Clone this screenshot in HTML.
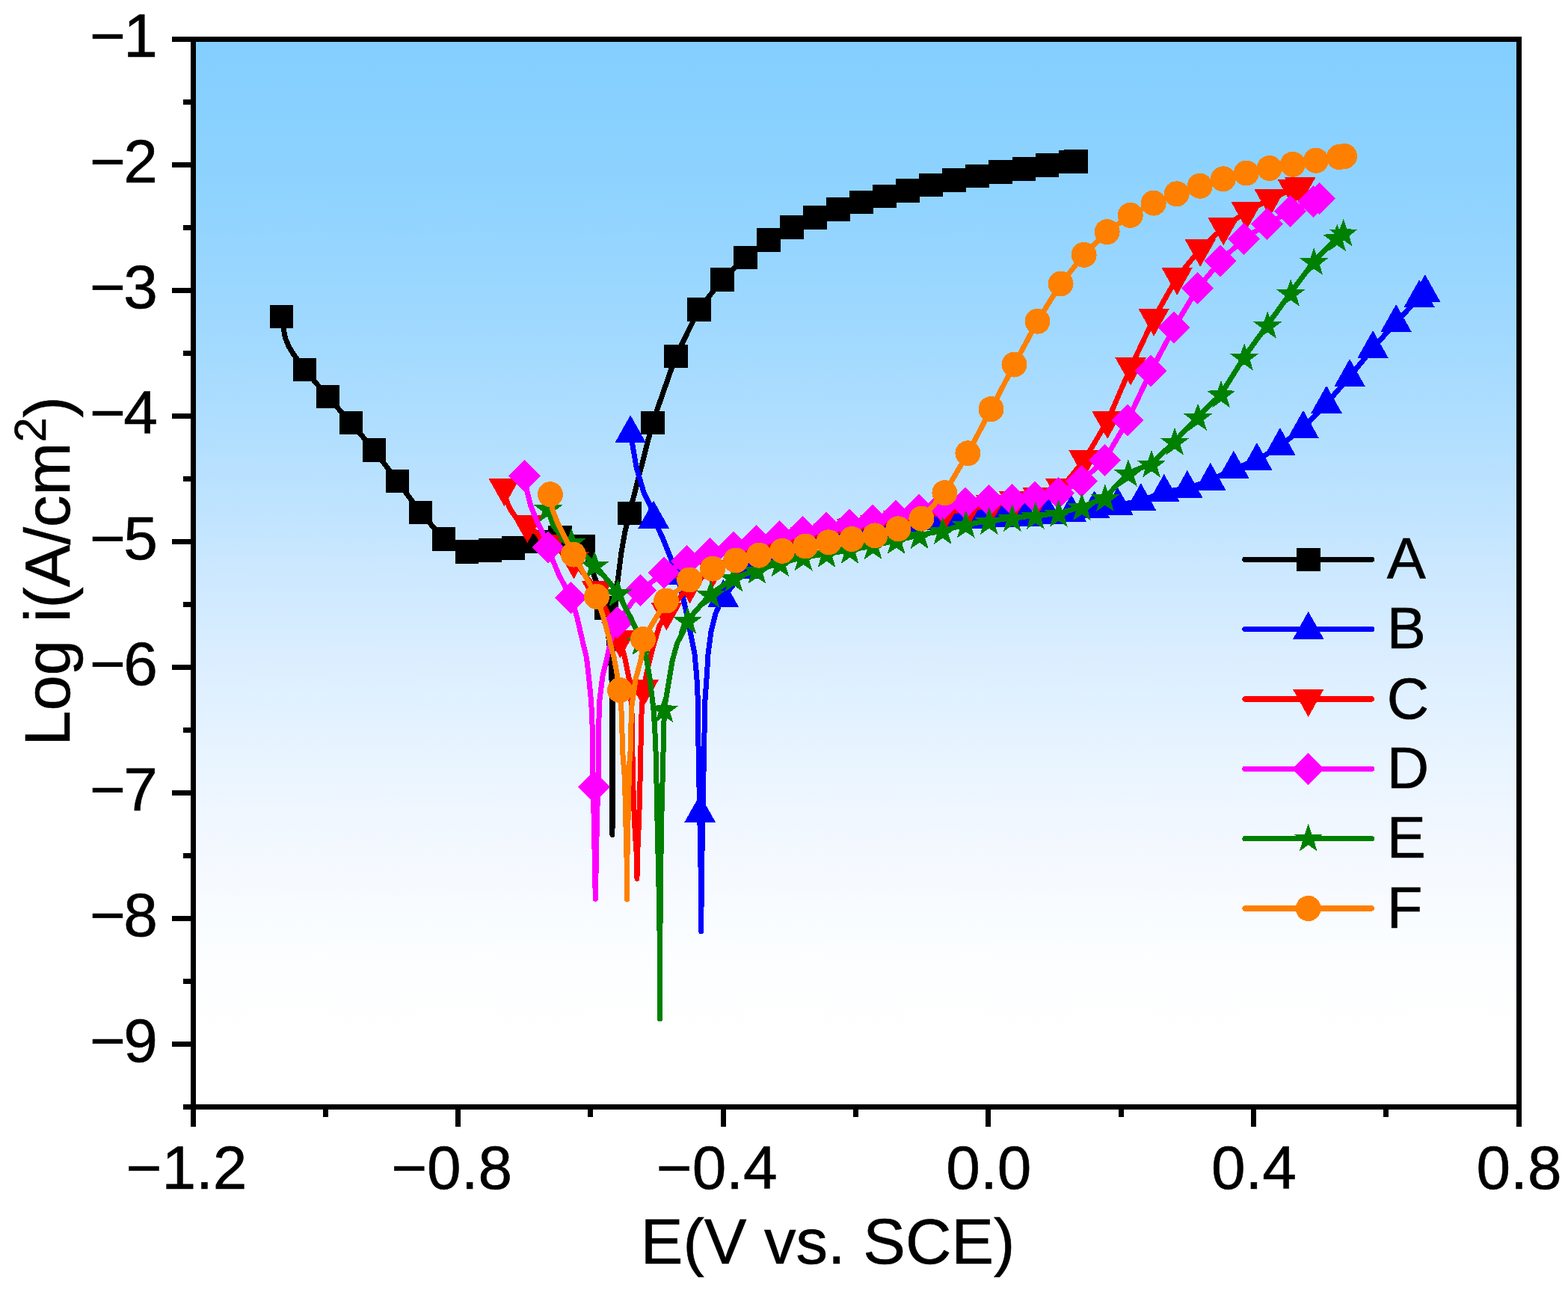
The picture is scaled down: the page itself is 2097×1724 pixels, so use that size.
<!DOCTYPE html>
<html lang="en"><head><meta charset="utf-8"><title>Polarization curves</title>
<style>html,body{margin:0;padding:0;background:#fff}body{width:2097px;height:1724px;overflow:hidden}svg{display:block}text{font-family:"Liberation Sans",sans-serif;fill:#000;stroke:#000;stroke-width:0.6px}</style></head><body>
<svg width="2097" height="1724" viewBox="0 0 2097 1724">
<defs><linearGradient id="bg" x1="0" y1="0" x2="0" y2="1"><stop offset="0" stop-color="#84cfff"/><stop offset="0.02" stop-color="#84cfff"/><stop offset="0.145" stop-color="#8fd3ff"/><stop offset="0.278" stop-color="#a1d9ff"/><stop offset="0.39" stop-color="#b5e0ff"/><stop offset="0.5" stop-color="#cce8ff"/><stop offset="0.594" stop-color="#ddefff"/><stop offset="0.671" stop-color="#e8f4ff"/><stop offset="0.755" stop-color="#f3f8ff"/><stop offset="0.839" stop-color="#fafdff"/><stop offset="0.885" stop-color="#fdfeff"/><stop offset="0.93" stop-color="#ffffff"/><stop offset="1" stop-color="#ffffff"/></linearGradient></defs>
<rect x="0" y="0" width="2097" height="1724" fill="#fff"/>
<rect x="258.5" y="52.5" width="1773.0" height="1428.0" fill="url(#bg)"/>
<g shape-rendering="crispEdges">
<path d="M376.3,423.4 L378.5,436.0 L381.5,452.0 L386.5,464.0 L393.0,474.5 L400.0,484.0 L407.3,494.4 L438.4,530.5 L469.4,565.5 L500.4,602.1 L531.5,643.3 L562.5,685.6 L593.5,720.8 L624.5,738.0 L655.6,735.9 L686.6,733.0 L717.6,724.5 L748.7,718.6 L779.7,730.8 L810.7,813.1 L813.7,850.0 L816.5,880.0 L818.5,920.0 L819.0,1116.5 L819.4,880.0 L819.6,811.0 L822.0,797.0 L826.1,777.4 L830.9,739.1 L835.7,712.0 L841.8,686.3 L872.8,565.4 L903.8,476.5 L934.8,413.7 L965.9,374.0 L996.9,344.3 L1027.9,321.2 L1059.0,304.2 L1090.0,290.9 L1121.0,280.2 L1152.0,270.5 L1183.1,262.5 L1214.1,254.8 L1245.1,247.5 L1276.2,241.1 L1307.2,235.5 L1338.2,230.1 L1369.3,226.0 L1400.3,221.0 L1431.3,216.3 L1439.1,215.7" fill="none" stroke="#000000" stroke-width="7.0" stroke-linejoin="round" stroke-linecap="round"/>
<rect x="360.5" y="407.6" width="31.6" height="31.6" fill="#000000"/>
<rect x="391.5" y="478.6" width="31.6" height="31.6" fill="#000000"/>
<rect x="422.6" y="514.7" width="31.6" height="31.6" fill="#000000"/>
<rect x="453.6" y="549.7" width="31.6" height="31.6" fill="#000000"/>
<rect x="484.6" y="586.3" width="31.6" height="31.6" fill="#000000"/>
<rect x="515.7" y="627.5" width="31.6" height="31.6" fill="#000000"/>
<rect x="546.7" y="669.8" width="31.6" height="31.6" fill="#000000"/>
<rect x="577.7" y="705.0" width="31.6" height="31.6" fill="#000000"/>
<rect x="608.7" y="722.2" width="31.6" height="31.6" fill="#000000"/>
<rect x="639.8" y="720.1" width="31.6" height="31.6" fill="#000000"/>
<rect x="670.8" y="717.2" width="31.6" height="31.6" fill="#000000"/>
<rect x="701.8" y="708.7" width="31.6" height="31.6" fill="#000000"/>
<rect x="732.9" y="702.8" width="31.6" height="31.6" fill="#000000"/>
<rect x="763.9" y="715.0" width="31.6" height="31.6" fill="#000000"/>
<rect x="794.9" y="797.3" width="31.6" height="31.6" fill="#000000"/>
<rect x="826.0" y="670.5" width="31.6" height="31.6" fill="#000000"/>
<rect x="857.0" y="549.6" width="31.6" height="31.6" fill="#000000"/>
<rect x="888.0" y="460.7" width="31.6" height="31.6" fill="#000000"/>
<rect x="919.0" y="397.9" width="31.6" height="31.6" fill="#000000"/>
<rect x="950.1" y="358.2" width="31.6" height="31.6" fill="#000000"/>
<rect x="981.1" y="328.5" width="31.6" height="31.6" fill="#000000"/>
<rect x="1012.1" y="305.4" width="31.6" height="31.6" fill="#000000"/>
<rect x="1043.2" y="288.4" width="31.6" height="31.6" fill="#000000"/>
<rect x="1074.2" y="275.1" width="31.6" height="31.6" fill="#000000"/>
<rect x="1105.2" y="264.4" width="31.6" height="31.6" fill="#000000"/>
<rect x="1136.2" y="254.7" width="31.6" height="31.6" fill="#000000"/>
<rect x="1167.3" y="246.7" width="31.6" height="31.6" fill="#000000"/>
<rect x="1198.3" y="239.0" width="31.6" height="31.6" fill="#000000"/>
<rect x="1229.3" y="231.7" width="31.6" height="31.6" fill="#000000"/>
<rect x="1260.4" y="225.3" width="31.6" height="31.6" fill="#000000"/>
<rect x="1291.4" y="219.7" width="31.6" height="31.6" fill="#000000"/>
<rect x="1322.4" y="214.3" width="31.6" height="31.6" fill="#000000"/>
<rect x="1353.5" y="210.2" width="31.6" height="31.6" fill="#000000"/>
<rect x="1384.5" y="205.2" width="31.6" height="31.6" fill="#000000"/>
<rect x="1415.5" y="200.5" width="31.6" height="31.6" fill="#000000"/>
<rect x="1423.3" y="199.9" width="31.6" height="31.6" fill="#000000"/>
</g>
<g shape-rendering="crispEdges">
<path d="M843.1,579.0 L845.2,590.6 L851.2,625.8 L861.5,660.2 L870.0,677.3 L874.1,693.5 L886.4,720.0 L897.9,748.7 L905.2,769.0 L913.6,799.3 L917.4,816.6 L923.2,845.3 L928.9,874.0 L931.8,905.0 L933.5,940.0 L933.7,975.0 L934.2,1011.6 L936.7,1139.0 L937.4,1185.6 L937.8,1246.0 L938.2,1185.6 L939.0,1139.0 L941.4,1011.6 L942.1,975.0 L942.7,940.0 L945.2,905.0 L947.1,874.0 L950.9,845.3 L956.7,821.3 L961.4,810.8 L967.2,798.7 L998.2,761.3 L1029.3,745.0 L1060.3,732.0 L1091.3,722.0 L1122.4,717.0 L1153.4,712.0 L1184.4,706.5 L1215.5,700.0 L1246.5,695.5 L1277.5,694.0 L1308.6,693.5 L1339.6,691.8 L1370.6,690.4 L1401.6,688.0 L1432.7,685.3 L1463.7,680.1 L1494.7,675.5 L1525.8,670.0 L1556.8,657.8 L1587.8,652.8 L1618.8,642.7 L1649.9,626.6 L1680.9,615.9 L1711.9,595.9 L1743.0,572.6 L1774.0,539.6 L1805.0,503.9 L1836.1,465.8 L1867.1,430.8 L1898.1,398.0 L1905.8,390.9" fill="none" stroke="#0000ff" stroke-width="7.0" stroke-linejoin="round" stroke-linecap="round"/>
<polygon points="843.1,555.1 863.9,592.1 822.4,592.1" fill="#0000ff"/>
<polygon points="874.1,669.6 894.9,706.6 853.4,706.6" fill="#0000ff"/>
<polygon points="905.2,745.1 925.9,782.1 884.4,782.1" fill="#0000ff"/>
<polygon points="936.2,1062.7 956.9,1099.7 915.4,1099.7" fill="#0000ff"/>
<polygon points="967.2,774.8 988.0,811.8 946.5,811.8" fill="#0000ff"/>
<polygon points="998.2,737.4 1019.0,774.4 977.5,774.4" fill="#0000ff"/>
<polygon points="1029.3,721.1 1050.0,758.1 1008.5,758.1" fill="#0000ff"/>
<polygon points="1060.3,708.1 1081.1,745.1 1039.6,745.1" fill="#0000ff"/>
<polygon points="1091.3,698.1 1112.1,735.1 1070.6,735.1" fill="#0000ff"/>
<polygon points="1122.4,693.1 1143.1,730.1 1101.6,730.1" fill="#0000ff"/>
<polygon points="1153.4,688.1 1174.2,725.1 1132.7,725.1" fill="#0000ff"/>
<polygon points="1184.4,682.6 1205.2,719.6 1163.7,719.6" fill="#0000ff"/>
<polygon points="1215.5,676.1 1236.2,713.1 1194.7,713.1" fill="#0000ff"/>
<polygon points="1246.5,671.6 1267.2,708.6 1225.7,708.6" fill="#0000ff"/>
<polygon points="1277.5,670.1 1298.3,707.1 1256.8,707.1" fill="#0000ff"/>
<polygon points="1308.6,669.6 1329.3,706.6 1287.8,706.6" fill="#0000ff"/>
<polygon points="1339.6,667.9 1360.3,704.9 1318.8,704.9" fill="#0000ff"/>
<polygon points="1370.6,666.5 1391.4,703.5 1349.9,703.5" fill="#0000ff"/>
<polygon points="1401.6,664.1 1422.4,701.1 1380.9,701.1" fill="#0000ff"/>
<polygon points="1432.7,661.4 1453.4,698.4 1411.9,698.4" fill="#0000ff"/>
<polygon points="1463.7,656.2 1484.5,693.2 1443.0,693.2" fill="#0000ff"/>
<polygon points="1494.7,651.6 1515.5,688.6 1474.0,688.6" fill="#0000ff"/>
<polygon points="1525.8,646.1 1546.5,683.1 1505.0,683.1" fill="#0000ff"/>
<polygon points="1556.8,633.9 1577.5,670.9 1536.0,670.9" fill="#0000ff"/>
<polygon points="1587.8,628.9 1608.6,665.9 1567.1,665.9" fill="#0000ff"/>
<polygon points="1618.8,618.8 1639.6,655.8 1598.1,655.8" fill="#0000ff"/>
<polygon points="1649.9,602.7 1670.6,639.7 1629.1,639.7" fill="#0000ff"/>
<polygon points="1680.9,592.0 1701.7,629.0 1660.2,629.0" fill="#0000ff"/>
<polygon points="1711.9,572.0 1732.7,609.0 1691.2,609.0" fill="#0000ff"/>
<polygon points="1743.0,548.7 1763.7,585.7 1722.2,585.7" fill="#0000ff"/>
<polygon points="1774.0,515.7 1794.8,552.7 1753.2,552.7" fill="#0000ff"/>
<polygon points="1805.0,480.0 1825.8,517.0 1784.3,517.0" fill="#0000ff"/>
<polygon points="1836.1,441.9 1856.8,478.9 1815.3,478.9" fill="#0000ff"/>
<polygon points="1867.1,406.9 1887.8,443.9 1846.3,443.9" fill="#0000ff"/>
<polygon points="1898.1,374.1 1918.9,411.1 1877.4,411.1" fill="#0000ff"/>
<polygon points="1905.8,367.0 1926.5,404.0 1885.0,404.0" fill="#0000ff"/>
</g>
<g shape-rendering="crispEdges">
<path d="M674.3,653.3 L676.0,664.0 L678.5,672.0 L682.0,680.5 L686.0,686.5 L690.0,692.0 L696.0,697.5 L705.3,702.5 L736.4,728.0 L767.4,750.6 L798.4,789.6 L829.4,856.5 L835.7,880.0 L841.4,908.7 L844.8,947.0 L845.6,975.7 L846.0,1011.6 L847.3,1069.6 L849.4,1116.0 L851.8,1150.8 L852.0,1175.2 L852.2,1150.8 L853.8,1116.0 L855.5,1069.6 L856.7,1011.6 L857.5,975.7 L858.2,947.0 L860.5,921.8 L866.0,895.0 L873.9,863.5 L881.6,838.0 L891.5,819.4 L922.5,783.6 L953.6,762.0 L984.6,748.0 L1015.6,736.0 L1046.7,726.0 L1077.7,718.0 L1108.7,713.0 L1139.8,707.5 L1170.8,702.0 L1201.8,696.0 L1232.8,690.5 L1263.9,685.4 L1294.9,681.0 L1325.9,675.5 L1357.0,670.3 L1388.0,665.0 L1419.0,653.5 L1450.0,615.4 L1481.1,563.2 L1512.1,491.5 L1543.1,426.0 L1574.2,371.0 L1605.2,333.1 L1636.2,304.4 L1667.3,283.2 L1698.3,266.2 L1729.3,253.1 L1738.8,250.1" fill="none" stroke="#ff0000" stroke-width="7.0" stroke-linejoin="round" stroke-linecap="round"/>
<polygon points="674.3,677.2 695.0,640.2 653.5,640.2" fill="#ff0000"/>
<polygon points="705.3,726.4 726.1,689.4 684.6,689.4" fill="#ff0000"/>
<polygon points="736.4,751.9 757.1,714.9 715.6,714.9" fill="#ff0000"/>
<polygon points="767.4,774.5 788.1,737.5 746.6,737.5" fill="#ff0000"/>
<polygon points="798.4,813.5 819.2,776.5 777.7,776.5" fill="#ff0000"/>
<polygon points="829.4,880.4 850.2,843.4 808.7,843.4" fill="#ff0000"/>
<polygon points="860.5,945.7 881.2,908.7 839.7,908.7" fill="#ff0000"/>
<polygon points="891.5,843.3 912.3,806.3 870.8,806.3" fill="#ff0000"/>
<polygon points="922.5,807.5 943.3,770.5 901.8,770.5" fill="#ff0000"/>
<polygon points="953.6,785.9 974.3,748.9 932.8,748.9" fill="#ff0000"/>
<polygon points="984.6,771.9 1005.3,734.9 963.8,734.9" fill="#ff0000"/>
<polygon points="1015.6,759.9 1036.4,722.9 994.9,722.9" fill="#ff0000"/>
<polygon points="1046.7,749.9 1067.4,712.9 1025.9,712.9" fill="#ff0000"/>
<polygon points="1077.7,741.9 1098.4,704.9 1056.9,704.9" fill="#ff0000"/>
<polygon points="1108.7,736.9 1129.5,699.9 1088.0,699.9" fill="#ff0000"/>
<polygon points="1139.8,731.4 1160.5,694.4 1119.0,694.4" fill="#ff0000"/>
<polygon points="1170.8,725.9 1191.5,688.9 1150.0,688.9" fill="#ff0000"/>
<polygon points="1201.8,719.9 1222.6,682.9 1181.1,682.9" fill="#ff0000"/>
<polygon points="1232.8,714.4 1253.6,677.4 1212.1,677.4" fill="#ff0000"/>
<polygon points="1263.9,709.3 1284.6,672.3 1243.1,672.3" fill="#ff0000"/>
<polygon points="1294.9,704.9 1315.7,667.9 1274.2,667.9" fill="#ff0000"/>
<polygon points="1325.9,699.4 1346.7,662.4 1305.2,662.4" fill="#ff0000"/>
<polygon points="1357.0,694.2 1377.7,657.2 1336.2,657.2" fill="#ff0000"/>
<polygon points="1388.0,688.9 1408.7,651.9 1367.2,651.9" fill="#ff0000"/>
<polygon points="1419.0,677.4 1439.8,640.4 1398.3,640.4" fill="#ff0000"/>
<polygon points="1450.0,639.3 1470.8,602.3 1429.3,602.3" fill="#ff0000"/>
<polygon points="1481.1,587.1 1501.8,550.1 1460.3,550.1" fill="#ff0000"/>
<polygon points="1512.1,515.4 1532.9,478.4 1491.4,478.4" fill="#ff0000"/>
<polygon points="1543.1,449.9 1563.9,412.9 1522.4,412.9" fill="#ff0000"/>
<polygon points="1574.2,394.9 1594.9,357.9 1553.4,357.9" fill="#ff0000"/>
<polygon points="1605.2,357.0 1626.0,320.0 1584.5,320.0" fill="#ff0000"/>
<polygon points="1636.2,328.3 1657.0,291.3 1615.5,291.3" fill="#ff0000"/>
<polygon points="1667.3,307.1 1688.0,270.1 1646.5,270.1" fill="#ff0000"/>
<polygon points="1698.3,290.1 1719.0,253.1 1677.5,253.1" fill="#ff0000"/>
<polygon points="1729.3,277.0 1750.1,240.0 1708.6,240.0" fill="#ff0000"/>
<polygon points="1738.8,274.0 1759.5,237.0 1718.0,237.0" fill="#ff0000"/>
</g>
<g shape-rendering="crispEdges">
<path d="M701.5,636.2 L705.0,657.4 L709.8,676.6 L717.5,695.7 L725.6,712.0 L732.5,732.0 L740.9,753.0 L747.0,768.0 L755.0,783.0 L763.6,799.4 L771.6,825.0 L778.3,854.0 L784.5,880.0 L787.8,908.7 L790.5,937.4 L791.9,961.0 L792.1,975.7 L792.4,1014.0 L792.9,1042.7 L794.3,1100.0 L796.3,1202.3 L798.4,1100.0 L800.0,1042.7 L800.5,1014.0 L800.9,975.7 L801.0,961.0 L801.8,937.4 L806.0,903.9 L811.8,880.0 L816.5,858.0 L825.6,832.9 L856.6,789.9 L887.7,765.9 L918.7,750.6 L949.7,740.8 L980.8,731.8 L1011.8,723.6 L1042.8,717.6 L1073.9,711.6 L1104.9,706.4 L1135.9,702.1 L1167.0,695.6 L1198.0,689.6 L1229.0,682.4 L1260.0,676.0 L1291.1,673.0 L1322.1,669.5 L1353.1,668.5 L1384.2,665.3 L1415.2,659.6 L1446.2,643.5 L1477.2,615.4 L1508.3,562.0 L1539.3,496.1 L1570.3,438.1 L1601.4,385.8 L1632.4,349.1 L1663.4,319.2 L1694.5,299.7 L1725.5,282.7 L1756.5,269.2 L1764.4,265.7" fill="none" stroke="#ff00ff" stroke-width="7.0" stroke-linejoin="round" stroke-linecap="round"/>
<polygon points="701.5,614.7 723.0,636.2 701.5,657.7 680.0,636.2" fill="#ff00ff"/>
<polygon points="732.5,710.5 754.0,732.0 732.5,753.5 711.0,732.0" fill="#ff00ff"/>
<polygon points="763.6,777.9 785.1,799.4 763.6,820.9 742.1,799.4" fill="#ff00ff"/>
<polygon points="794.6,1030.7 816.1,1052.2 794.6,1073.7 773.1,1052.2" fill="#ff00ff"/>
<polygon points="825.6,811.4 847.1,832.9 825.6,854.4 804.1,832.9" fill="#ff00ff"/>
<polygon points="856.6,768.4 878.1,789.9 856.6,811.4 835.1,789.9" fill="#ff00ff"/>
<polygon points="887.7,744.4 909.2,765.9 887.7,787.4 866.2,765.9" fill="#ff00ff"/>
<polygon points="918.7,729.1 940.2,750.6 918.7,772.1 897.2,750.6" fill="#ff00ff"/>
<polygon points="949.7,719.3 971.2,740.8 949.7,762.3 928.2,740.8" fill="#ff00ff"/>
<polygon points="980.8,710.3 1002.3,731.8 980.8,753.3 959.3,731.8" fill="#ff00ff"/>
<polygon points="1011.8,702.1 1033.3,723.6 1011.8,745.1 990.3,723.6" fill="#ff00ff"/>
<polygon points="1042.8,696.1 1064.3,717.6 1042.8,739.1 1021.3,717.6" fill="#ff00ff"/>
<polygon points="1073.9,690.1 1095.4,711.6 1073.9,733.1 1052.4,711.6" fill="#ff00ff"/>
<polygon points="1104.9,684.9 1126.4,706.4 1104.9,727.9 1083.4,706.4" fill="#ff00ff"/>
<polygon points="1135.9,680.6 1157.4,702.1 1135.9,723.6 1114.4,702.1" fill="#ff00ff"/>
<polygon points="1167.0,674.1 1188.5,695.6 1167.0,717.1 1145.5,695.6" fill="#ff00ff"/>
<polygon points="1198.0,668.1 1219.5,689.6 1198.0,711.1 1176.5,689.6" fill="#ff00ff"/>
<polygon points="1229.0,660.9 1250.5,682.4 1229.0,703.9 1207.5,682.4" fill="#ff00ff"/>
<polygon points="1260.0,654.5 1281.5,676.0 1260.0,697.5 1238.5,676.0" fill="#ff00ff"/>
<polygon points="1291.1,651.5 1312.6,673.0 1291.1,694.5 1269.6,673.0" fill="#ff00ff"/>
<polygon points="1322.1,648.0 1343.6,669.5 1322.1,691.0 1300.6,669.5" fill="#ff00ff"/>
<polygon points="1353.1,647.0 1374.6,668.5 1353.1,690.0 1331.6,668.5" fill="#ff00ff"/>
<polygon points="1384.2,643.8 1405.7,665.3 1384.2,686.8 1362.7,665.3" fill="#ff00ff"/>
<polygon points="1415.2,638.1 1436.7,659.6 1415.2,681.1 1393.7,659.6" fill="#ff00ff"/>
<polygon points="1446.2,622.0 1467.7,643.5 1446.2,665.0 1424.7,643.5" fill="#ff00ff"/>
<polygon points="1477.2,593.9 1498.8,615.4 1477.2,636.9 1455.8,615.4" fill="#ff00ff"/>
<polygon points="1508.3,540.5 1529.8,562.0 1508.3,583.5 1486.8,562.0" fill="#ff00ff"/>
<polygon points="1539.3,474.6 1560.8,496.1 1539.3,517.6 1517.8,496.1" fill="#ff00ff"/>
<polygon points="1570.3,416.6 1591.8,438.1 1570.3,459.6 1548.8,438.1" fill="#ff00ff"/>
<polygon points="1601.4,364.3 1622.9,385.8 1601.4,407.3 1579.9,385.8" fill="#ff00ff"/>
<polygon points="1632.4,327.6 1653.9,349.1 1632.4,370.6 1610.9,349.1" fill="#ff00ff"/>
<polygon points="1663.4,297.7 1684.9,319.2 1663.4,340.7 1641.9,319.2" fill="#ff00ff"/>
<polygon points="1694.5,278.2 1716.0,299.7 1694.5,321.2 1673.0,299.7" fill="#ff00ff"/>
<polygon points="1725.5,261.2 1747.0,282.7 1725.5,304.2 1704.0,282.7" fill="#ff00ff"/>
<polygon points="1756.5,247.7 1778.0,269.2 1756.5,290.7 1735.0,269.2" fill="#ff00ff"/>
<polygon points="1764.4,244.2 1785.9,265.7 1764.4,287.2 1742.9,265.7" fill="#ff00ff"/>
</g>
<g shape-rendering="crispEdges">
<path d="M733.2,679.8 L736.0,692.0 L740.0,703.0 L746.0,711.0 L752.0,717.5 L758.0,721.5 L764.2,724.6 L795.3,755.4 L826.3,792.7 L835.7,811.4 L843.3,825.7 L850.0,840.0 L857.3,857.8 L864.4,880.0 L869.2,908.7 L873.8,947.0 L875.8,975.7 L877.3,1011.6 L878.9,1092.8 L881.0,1185.6 L882.2,1255.0 L882.6,1363.0 L882.9,1255.0 L883.3,1185.6 L884.8,1092.8 L886.9,1011.6 L887.6,975.0 L888.6,948.1 L890.2,937.4 L895.0,908.7 L899.2,883.5 L905.9,859.6 L913.6,845.3 L919.4,829.7 L950.4,794.6 L981.4,773.0 L1012.5,762.5 L1043.5,753.2 L1074.5,745.2 L1105.6,740.7 L1136.6,735.7 L1167.6,729.9 L1198.7,722.7 L1229.7,715.8 L1260.7,709.8 L1291.7,701.4 L1322.8,696.8 L1353.8,692.8 L1384.8,689.7 L1415.9,686.5 L1446.9,677.9 L1477.9,665.8 L1509.0,632.5 L1540.0,620.3 L1571.0,590.4 L1602.0,557.6 L1633.1,527.0 L1664.1,477.4 L1695.1,434.5 L1726.2,391.5 L1757.2,349.6 L1788.2,318.0 L1796.6,311.1" fill="none" stroke="#008000" stroke-width="7.0" stroke-linejoin="round" stroke-linecap="round"/>
<polygon points="733.2,661.4 738.0,675.1 752.5,675.4 740.9,684.2 745.1,698.1 733.2,689.8 721.3,698.1 725.5,684.2 713.9,675.4 728.4,675.1" fill="#008000"/>
<polygon points="764.2,706.2 769.0,719.9 783.5,720.2 772.0,729.0 776.2,742.9 764.2,734.6 752.3,742.9 756.5,729.0 744.9,720.2 759.5,719.9" fill="#008000"/>
<polygon points="795.3,737.0 800.0,750.7 814.6,751.0 803.0,759.8 807.2,773.7 795.3,765.4 783.3,773.7 787.5,759.8 776.0,751.0 790.5,750.7" fill="#008000"/>
<polygon points="826.3,774.3 831.1,788.0 845.6,788.3 834.0,797.1 838.2,811.0 826.3,802.7 814.4,811.0 818.6,797.1 807.0,788.3 821.5,788.0" fill="#008000"/>
<polygon points="857.3,839.4 862.1,853.1 876.6,853.4 865.0,862.2 869.3,876.1 857.3,867.8 845.4,876.1 849.6,862.2 838.0,853.4 852.5,853.1" fill="#008000"/>
<polygon points="888.4,929.7 893.1,943.4 907.7,943.7 896.1,952.5 900.3,966.4 888.4,958.1 876.4,966.4 880.6,952.5 869.0,943.7 883.6,943.4" fill="#008000"/>
<polygon points="919.4,811.3 924.2,825.0 938.7,825.3 927.1,834.1 931.3,848.0 919.4,839.7 907.4,848.0 911.7,834.1 900.1,825.3 914.6,825.0" fill="#008000"/>
<polygon points="950.4,776.2 955.2,789.9 969.7,790.2 958.1,799.0 962.3,812.9 950.4,804.6 938.5,812.9 942.7,799.0 931.1,790.2 945.6,789.9" fill="#008000"/>
<polygon points="981.4,754.6 986.2,768.3 1000.7,768.6 989.2,777.4 993.4,791.3 981.4,783.0 969.5,791.3 973.7,777.4 962.1,768.6 976.7,768.3" fill="#008000"/>
<polygon points="1012.5,744.1 1017.2,757.8 1031.8,758.1 1020.2,766.9 1024.4,780.8 1012.5,772.5 1000.5,780.8 1004.7,766.9 993.2,758.1 1007.7,757.8" fill="#008000"/>
<polygon points="1043.5,734.8 1048.3,748.5 1062.8,748.8 1051.2,757.6 1055.4,771.5 1043.5,763.2 1031.6,771.5 1035.8,757.6 1024.2,748.8 1038.7,748.5" fill="#008000"/>
<polygon points="1074.5,726.8 1079.3,740.5 1093.8,740.8 1082.3,749.6 1086.5,763.5 1074.5,755.2 1062.6,763.5 1066.8,749.6 1055.2,740.8 1069.8,740.5" fill="#008000"/>
<polygon points="1105.6,722.3 1110.3,736.0 1124.9,736.3 1113.3,745.1 1117.5,759.0 1105.6,750.7 1093.6,759.0 1097.8,745.1 1086.3,736.3 1100.8,736.0" fill="#008000"/>
<polygon points="1136.6,717.3 1141.4,731.0 1155.9,731.3 1144.3,740.1 1148.5,754.0 1136.6,745.7 1124.7,754.0 1128.9,740.1 1117.3,731.3 1131.8,731.0" fill="#008000"/>
<polygon points="1167.6,711.5 1172.4,725.2 1186.9,725.5 1175.3,734.3 1179.6,748.2 1167.6,739.9 1155.7,748.2 1159.9,734.3 1148.3,725.5 1162.8,725.2" fill="#008000"/>
<polygon points="1198.7,704.3 1203.4,718.0 1218.0,718.3 1206.4,727.1 1210.6,741.0 1198.7,732.7 1186.7,741.0 1190.9,727.1 1179.3,718.3 1193.9,718.0" fill="#008000"/>
<polygon points="1229.7,697.4 1234.5,711.1 1249.0,711.4 1237.4,720.2 1241.6,734.1 1229.7,725.8 1217.7,734.1 1222.0,720.2 1210.4,711.4 1224.9,711.1" fill="#008000"/>
<polygon points="1260.7,691.4 1265.5,705.1 1280.0,705.4 1268.4,714.2 1272.6,728.1 1260.7,719.8 1248.8,728.1 1253.0,714.2 1241.4,705.4 1255.9,705.1" fill="#008000"/>
<polygon points="1291.7,683.0 1296.5,696.7 1311.0,697.0 1299.5,705.8 1303.7,719.7 1291.7,711.4 1279.8,719.7 1284.0,705.8 1272.4,697.0 1287.0,696.7" fill="#008000"/>
<polygon points="1322.8,678.4 1327.5,692.1 1342.1,692.4 1330.5,701.2 1334.7,715.1 1322.8,706.8 1310.8,715.1 1315.0,701.2 1303.5,692.4 1318.0,692.1" fill="#008000"/>
<polygon points="1353.8,674.4 1358.6,688.1 1373.1,688.4 1361.5,697.2 1365.7,711.1 1353.8,702.8 1341.9,711.1 1346.1,697.2 1334.5,688.4 1349.0,688.1" fill="#008000"/>
<polygon points="1384.8,671.3 1389.6,685.0 1404.1,685.3 1392.6,694.1 1396.8,708.0 1384.8,699.7 1372.9,708.0 1377.1,694.1 1365.5,685.3 1380.1,685.0" fill="#008000"/>
<polygon points="1415.9,668.1 1420.6,681.8 1435.2,682.1 1423.6,690.9 1427.8,704.8 1415.9,696.5 1403.9,704.8 1408.1,690.9 1396.6,682.1 1411.1,681.8" fill="#008000"/>
<polygon points="1446.9,659.5 1451.7,673.2 1466.2,673.5 1454.6,682.3 1458.8,696.2 1446.9,687.9 1435.0,696.2 1439.2,682.3 1427.6,673.5 1442.1,673.2" fill="#008000"/>
<polygon points="1477.9,647.4 1482.7,661.1 1497.2,661.4 1485.6,670.2 1489.9,684.1 1477.9,675.8 1466.0,684.1 1470.2,670.2 1458.6,661.4 1473.1,661.1" fill="#008000"/>
<polygon points="1509.0,614.1 1513.7,627.8 1528.3,628.1 1516.7,636.9 1520.9,650.8 1509.0,642.5 1497.0,650.8 1501.2,636.9 1489.6,628.1 1504.2,627.8" fill="#008000"/>
<polygon points="1540.0,601.9 1544.8,615.6 1559.3,615.9 1547.7,624.7 1551.9,638.6 1540.0,630.3 1528.0,638.6 1532.3,624.7 1520.7,615.9 1535.2,615.6" fill="#008000"/>
<polygon points="1571.0,572.0 1575.8,585.7 1590.3,586.0 1578.7,594.8 1582.9,608.7 1571.0,600.4 1559.1,608.7 1563.3,594.8 1551.7,586.0 1566.2,585.7" fill="#008000"/>
<polygon points="1602.0,539.2 1606.8,552.9 1621.3,553.2 1609.8,562.0 1614.0,575.9 1602.0,567.6 1590.1,575.9 1594.3,562.0 1582.7,553.2 1597.3,552.9" fill="#008000"/>
<polygon points="1633.1,508.6 1637.8,522.3 1652.4,522.6 1640.8,531.4 1645.0,545.3 1633.1,537.0 1621.1,545.3 1625.3,531.4 1613.8,522.6 1628.3,522.3" fill="#008000"/>
<polygon points="1664.1,459.0 1668.9,472.7 1683.4,473.0 1671.8,481.8 1676.0,495.7 1664.1,487.4 1652.2,495.7 1656.4,481.8 1644.8,473.0 1659.3,472.7" fill="#008000"/>
<polygon points="1695.1,416.1 1699.9,429.8 1714.4,430.1 1702.9,438.9 1707.1,452.8 1695.1,444.5 1683.2,452.8 1687.4,438.9 1675.8,430.1 1690.4,429.8" fill="#008000"/>
<polygon points="1726.2,373.1 1730.9,386.8 1745.5,387.1 1733.9,395.9 1738.1,409.8 1726.2,401.5 1714.2,409.8 1718.4,395.9 1706.9,387.1 1721.4,386.8" fill="#008000"/>
<polygon points="1757.2,331.2 1762.0,344.9 1776.5,345.2 1764.9,354.0 1769.1,367.9 1757.2,359.6 1745.3,367.9 1749.5,354.0 1737.9,345.2 1752.4,344.9" fill="#008000"/>
<polygon points="1788.2,299.6 1793.0,313.3 1807.5,313.6 1795.9,322.4 1800.2,336.3 1788.2,328.0 1776.3,336.3 1780.5,322.4 1768.9,313.6 1783.4,313.3" fill="#008000"/>
<polygon points="1796.6,292.7 1801.4,306.4 1815.9,306.7 1804.3,315.5 1808.5,329.4 1796.6,321.1 1784.7,329.4 1788.9,315.5 1777.3,306.7 1791.8,306.4" fill="#008000"/>
</g>
<g shape-rendering="crispEdges">
<path d="M735.9,661.2 L739.0,682.0 L746.0,700.0 L756.0,720.0 L766.9,741.6 L798.0,798.0 L807.0,825.3 L814.6,854.0 L821.3,880.0 L829.0,923.1 L831.4,956.6 L832.6,1004.0 L834.0,1023.0 L835.5,1042.7 L836.7,1092.8 L838.4,1162.0 L838.5,1203.0 L838.6,1162.0 L840.1,1092.8 L841.2,1042.7 L841.6,1023.0 L843.1,1004.0 L844.5,947.0 L850.0,908.7 L857.7,880.0 L860.0,854.9 L891.0,803.5 L922.1,775.5 L953.1,760.6 L984.1,749.5 L1015.2,742.7 L1046.2,736.8 L1077.2,730.5 L1108.3,725.3 L1139.3,721.0 L1170.3,716.4 L1201.3,707.3 L1232.4,693.6 L1263.4,659.2 L1294.4,606.3 L1325.5,547.1 L1356.5,487.5 L1387.5,429.7 L1418.6,379.5 L1449.6,340.8 L1480.6,310.2 L1511.7,287.9 L1542.7,271.6 L1573.7,259.3 L1604.7,248.7 L1635.8,239.3 L1666.8,231.5 L1697.8,225.0 L1728.9,219.8 L1759.9,214.7 L1790.9,210.1 L1798.0,208.9" fill="none" stroke="#ff8000" stroke-width="7.0" stroke-linejoin="round" stroke-linecap="round"/>
<circle cx="735.9" cy="661.2" r="17.0" fill="#ff8000"/>
<circle cx="766.9" cy="741.6" r="17.0" fill="#ff8000"/>
<circle cx="798.0" cy="798.0" r="17.0" fill="#ff8000"/>
<circle cx="829.0" cy="923.1" r="17.0" fill="#ff8000"/>
<circle cx="860.0" cy="854.9" r="17.0" fill="#ff8000"/>
<circle cx="891.0" cy="803.5" r="17.0" fill="#ff8000"/>
<circle cx="922.1" cy="775.5" r="17.0" fill="#ff8000"/>
<circle cx="953.1" cy="760.6" r="17.0" fill="#ff8000"/>
<circle cx="984.1" cy="749.5" r="17.0" fill="#ff8000"/>
<circle cx="1015.2" cy="742.7" r="17.0" fill="#ff8000"/>
<circle cx="1046.2" cy="736.8" r="17.0" fill="#ff8000"/>
<circle cx="1077.2" cy="730.5" r="17.0" fill="#ff8000"/>
<circle cx="1108.3" cy="725.3" r="17.0" fill="#ff8000"/>
<circle cx="1139.3" cy="721.0" r="17.0" fill="#ff8000"/>
<circle cx="1170.3" cy="716.4" r="17.0" fill="#ff8000"/>
<circle cx="1201.3" cy="707.3" r="17.0" fill="#ff8000"/>
<circle cx="1232.4" cy="693.6" r="17.0" fill="#ff8000"/>
<circle cx="1263.4" cy="659.2" r="17.0" fill="#ff8000"/>
<circle cx="1294.4" cy="606.3" r="17.0" fill="#ff8000"/>
<circle cx="1325.5" cy="547.1" r="17.0" fill="#ff8000"/>
<circle cx="1356.5" cy="487.5" r="17.0" fill="#ff8000"/>
<circle cx="1387.5" cy="429.7" r="17.0" fill="#ff8000"/>
<circle cx="1418.6" cy="379.5" r="17.0" fill="#ff8000"/>
<circle cx="1449.6" cy="340.8" r="17.0" fill="#ff8000"/>
<circle cx="1480.6" cy="310.2" r="17.0" fill="#ff8000"/>
<circle cx="1511.7" cy="287.9" r="17.0" fill="#ff8000"/>
<circle cx="1542.7" cy="271.6" r="17.0" fill="#ff8000"/>
<circle cx="1573.7" cy="259.3" r="17.0" fill="#ff8000"/>
<circle cx="1604.7" cy="248.7" r="17.0" fill="#ff8000"/>
<circle cx="1635.8" cy="239.3" r="17.0" fill="#ff8000"/>
<circle cx="1666.8" cy="231.5" r="17.0" fill="#ff8000"/>
<circle cx="1697.8" cy="225.0" r="17.0" fill="#ff8000"/>
<circle cx="1728.9" cy="219.8" r="17.0" fill="#ff8000"/>
<circle cx="1759.9" cy="214.7" r="17.0" fill="#ff8000"/>
<circle cx="1790.9" cy="210.1" r="17.0" fill="#ff8000"/>
<circle cx="1798.0" cy="208.9" r="17.0" fill="#ff8000"/>
</g>
<g stroke="#000" stroke-width="7.0" fill="none" stroke-linecap="butt" shape-rendering="crispEdges">
<rect x="258.5" y="52.5" width="1773.0" height="1428.0"/>
<line x1="258.5" y1="1480.5" x2="258.5" y2="1506.5"/>
<line x1="435.3" y1="1480.5" x2="435.3" y2="1494.0"/>
<line x1="612.6" y1="1480.5" x2="612.6" y2="1506.5"/>
<line x1="789.9" y1="1480.5" x2="789.9" y2="1494.0"/>
<line x1="967.2" y1="1480.5" x2="967.2" y2="1506.5"/>
<line x1="1144.5" y1="1480.5" x2="1144.5" y2="1494.0"/>
<line x1="1321.8" y1="1480.5" x2="1321.8" y2="1506.5"/>
<line x1="1499.1" y1="1480.5" x2="1499.1" y2="1494.0"/>
<line x1="1676.4" y1="1480.5" x2="1676.4" y2="1506.5"/>
<line x1="1853.7" y1="1480.5" x2="1853.7" y2="1494.0"/>
<line x1="2031.5" y1="1480.5" x2="2031.5" y2="1506.5"/>
<line x1="258.5" y1="52.5" x2="230.0" y2="52.5"/>
<line x1="258.5" y1="136.5" x2="245.0" y2="136.5"/>
<line x1="258.5" y1="220.5" x2="230.0" y2="220.5"/>
<line x1="258.5" y1="304.5" x2="245.0" y2="304.5"/>
<line x1="258.5" y1="388.5" x2="230.0" y2="388.5"/>
<line x1="258.5" y1="472.5" x2="245.0" y2="472.5"/>
<line x1="258.5" y1="556.5" x2="230.0" y2="556.5"/>
<line x1="258.5" y1="640.5" x2="245.0" y2="640.5"/>
<line x1="258.5" y1="724.5" x2="230.0" y2="724.5"/>
<line x1="258.5" y1="808.5" x2="245.0" y2="808.5"/>
<line x1="258.5" y1="892.5" x2="230.0" y2="892.5"/>
<line x1="258.5" y1="976.5" x2="245.0" y2="976.5"/>
<line x1="258.5" y1="1060.5" x2="230.0" y2="1060.5"/>
<line x1="258.5" y1="1144.5" x2="245.0" y2="1144.5"/>
<line x1="258.5" y1="1228.5" x2="230.0" y2="1228.5"/>
<line x1="258.5" y1="1312.5" x2="245.0" y2="1312.5"/>
<line x1="258.5" y1="1396.5" x2="230.0" y2="1396.5"/>
<line x1="258.5" y1="1480.5" x2="245.0" y2="1480.5"/>
</g>
<g font-size="82.0">
<text x="249.5" y="1589.5" text-anchor="middle">−1.2</text>
<text x="604.1" y="1589.5" text-anchor="middle">−0.8</text>
<text x="958.7" y="1589.5" text-anchor="middle">−0.4</text>
<text x="1322.3" y="1589.5" text-anchor="middle">0.0</text>
<text x="1676.9" y="1589.5" text-anchor="middle">0.4</text>
<text x="2031.5" y="1589.5" text-anchor="middle">0.8</text>
<text x="208.4" y="75.9" text-anchor="end"><tspan dx="2.5">−</tspan><tspan dx="-2.5">1</tspan></text>
<text x="208.4" y="243.9" text-anchor="end"><tspan dx="2.5">−</tspan><tspan dx="-2.5">2</tspan></text>
<text x="208.4" y="411.9" text-anchor="end"><tspan dx="2.5">−</tspan><tspan dx="-2.5">3</tspan></text>
<text x="208.4" y="579.9" text-anchor="end"><tspan dx="2.5">−</tspan><tspan dx="-2.5">4</tspan></text>
<text x="208.4" y="747.9" text-anchor="end"><tspan dx="2.5">−</tspan><tspan dx="-2.5">5</tspan></text>
<text x="208.4" y="915.9" text-anchor="end"><tspan dx="2.5">−</tspan><tspan dx="-2.5">6</tspan></text>
<text x="208.4" y="1083.9" text-anchor="end"><tspan dx="2.5">−</tspan><tspan dx="-2.5">7</tspan></text>
<text x="208.4" y="1251.9" text-anchor="end"><tspan dx="2.5">−</tspan><tspan dx="-2.5">8</tspan></text>
<text x="208.4" y="1419.9" text-anchor="end"><tspan dx="2.5">−</tspan><tspan dx="-2.5">9</tspan></text>
</g>
<text x="1107.0" y="1689.6" font-size="85.0" text-anchor="middle">E(V vs. SCE)</text>
<text transform="translate(93.0,764.0) rotate(-90)" font-size="85.0" text-anchor="middle">Log i(A/cm<tspan font-size="59.5" dy="-32.5">2</tspan><tspan dy="32.5">)</tspan></text>
<g shape-rendering="crispEdges">
<line x1="1665.0" y1="748.3" x2="1834.5" y2="748.3" stroke="#000000" stroke-width="7.3" stroke-linecap="round"/>
<rect x="1733.9" y="732.5" width="31.6" height="31.6" fill="#000000"/>
<text x="1854.7" y="773.9" font-size="78.0">A</text>
<line x1="1665.0" y1="841.6" x2="1834.5" y2="841.6" stroke="#0000ff" stroke-width="7.3" stroke-linecap="round"/>
<polygon points="1749.7,817.8 1770.5,854.8 1729.0,854.8" fill="#0000ff"/>
<text x="1854.7" y="867.2" font-size="78.0">B</text>
<line x1="1665.0" y1="935.0" x2="1834.5" y2="935.0" stroke="#ff0000" stroke-width="7.3" stroke-linecap="round"/>
<polygon points="1749.7,958.9 1770.5,921.9 1729.0,921.9" fill="#ff0000"/>
<text x="1854.7" y="960.6" font-size="78.0">C</text>
<line x1="1665.0" y1="1028.3" x2="1834.5" y2="1028.3" stroke="#ff00ff" stroke-width="7.3" stroke-linecap="round"/>
<polygon points="1749.7,1006.8 1771.2,1028.3 1749.7,1049.8 1728.2,1028.3" fill="#ff00ff"/>
<text x="1854.7" y="1053.9" font-size="78.0">D</text>
<line x1="1665.0" y1="1121.7" x2="1834.5" y2="1121.7" stroke="#008000" stroke-width="7.3" stroke-linecap="round"/>
<polygon points="1749.7,1101.8 1754.5,1115.5 1769.0,1115.8 1757.4,1124.6 1761.6,1138.5 1749.7,1130.2 1737.8,1138.5 1742.0,1124.6 1730.4,1115.8 1744.9,1115.5" fill="#008000"/>
<text x="1854.7" y="1147.3" font-size="78.0">E</text>
<line x1="1665.0" y1="1215.0" x2="1834.5" y2="1215.0" stroke="#ff8000" stroke-width="7.3" stroke-linecap="round"/>
<circle cx="1749.7" cy="1215.0" r="17.0" fill="#ff8000"/>
<text x="1854.7" y="1240.6" font-size="78.0">F</text>
</g>
</svg></body></html>
